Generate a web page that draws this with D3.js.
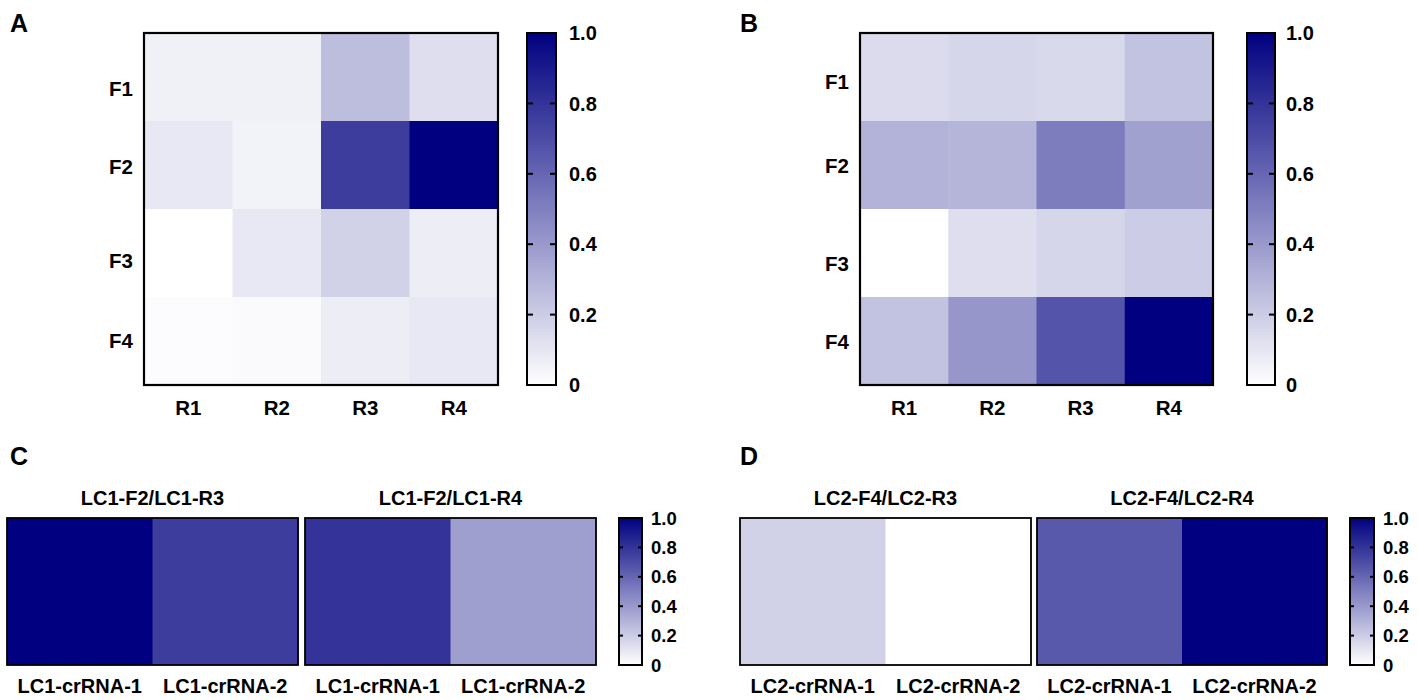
<!DOCTYPE html>
<html>
<head>
<meta charset="utf-8">
<script src="https://cdn.jsdelivr.net/npm/d3@7"></script>
<style>
  html, body { margin: 0; padding: 0; background: #fff; }
  svg { display: block; }
  text { font-family: "Liberation Sans", Arial, sans-serif; font-weight: bold; fill: #000; }
</style>
</head>
<body>
<svg id="chart" width="1418" height="700"></svg>
<script>
// ---------- DATA ----------
const rowsAB = ["F1", "F2", "F3", "F4"];
const colsAB = ["R1", "R2", "R3", "R4"];
const valuesA = [
  [0.06, 0.06, 0.26, 0.13],
  [0.09, 0.05, 0.76, 1.00],
  [0.00, 0.09, 0.18, 0.07],
  [0.01, 0.02, 0.07, 0.09]
];
const valuesB = [
  [0.14, 0.16, 0.15, 0.24],
  [0.30, 0.29, 0.51, 0.37],
  [0.00, 0.13, 0.16, 0.20],
  [0.24, 0.41, 0.67, 1.00]
];
const titlesC = ["LC1-F2/LC1-R3", "LC1-F2/LC1-R4"];
const labelsC = ["LC1-crRNA-1", "LC1-crRNA-2"];
const valuesC = [[1.00, 0.76], [0.80, 0.38]];
const titlesD = ["LC2-F4/LC2-R3", "LC2-F4/LC2-R4"];
const labelsD = ["LC2-crRNA-1", "LC2-crRNA-2"];
const valuesD = [[0.18, 0.00], [0.65, 1.00]];
const barTicks = [0, 0.2, 0.4, 0.6, 0.8, 1.0];
const barTickLabels = ["0", "0.2", "0.4", "0.6", "0.8", "1.0"];
const panelLetters = ["A", "B", "C", "D"];

// ---------- LAYOUT (style only) ----------
const rowLabelNudgeA = [12, 2, 8, 0];
const rowLabelNudgeB = [5, 1, 11, 1];

// ---------- SETUP ----------
const svg = d3.select("#chart");
const color = d3.scaleLinear().domain([0, 1]).range(["#ffffff", "#000080"]).interpolate(d3.interpolateRgb);

const defs = svg.append("defs");
const grad = defs.append("linearGradient").attr("id", "cbar")
  .attr("x1", 0).attr("y1", 1).attr("x2", 0).attr("y2", 0);
d3.range(0, 1.0001, 0.1).forEach(t => {
  grad.append("stop").attr("offset", t).attr("stop-color", color(t));
});

function colorbar(g, x0, x1, y0, y1, fontSize, tickLen, gap) {
  const y = d3.scaleLinear().domain([0, 1]).range([y1, y0]);
  g.append("rect").attr("x", x0).attr("y", y0).attr("width", x1 - x0).attr("height", y1 - y0)
    .attr("fill", "url(#cbar)").attr("stroke", "#000").attr("stroke-width", 2);
  barTicks.forEach((t, i) => {
    if (t > 0 && t < 1) {
      g.append("line").attr("x1", x0).attr("x2", x0 + tickLen).attr("y1", y(t)).attr("y2", y(t))
        .attr("stroke", "#000").attr("stroke-width", 2);
      g.append("line").attr("x1", x1 - tickLen).attr("x2", x1).attr("y1", y(t)).attr("y2", y(t))
        .attr("stroke", "#000").attr("stroke-width", 2);
    }
    g.append("text").attr("x", x1 + gap).attr("y", y(t)).attr("dy", "0.36em")
      .attr("font-size", fontSize).text(barTickLabels[i]);
  });
}

function squareHeatmap(g, values, xRange, yRange, nudge) {
  const x = d3.scaleBand().domain(colsAB).range(xRange);
  const y = d3.scaleBand().domain(rowsAB).range(yRange);
  rowsAB.forEach((r, i) => {
    colsAB.forEach((c, j) => {
      g.append("rect").attr("x", x(c)).attr("y", y(r))
        .attr("width", x.bandwidth() + 0.5).attr("height", y.bandwidth() + 0.5)
        .attr("fill", color(values[i][j]));
    });
  });
  g.append("rect").attr("x", xRange[0]).attr("y", yRange[0])
    .attr("width", xRange[1] - xRange[0]).attr("height", yRange[1] - yRange[0])
    .attr("fill", "none").attr("stroke", "#000").attr("stroke-width", 2.2);
  rowsAB.forEach((r, i) => {
    g.append("text").attr("x", xRange[0] - 11).attr("y", y(r) + y.bandwidth() / 2 + nudge[i])
      .attr("dy", "0.36em").attr("text-anchor", "end").attr("font-size", 20.5).text(r);
  });
  colsAB.forEach(c => {
    g.append("text").attr("x", x(c) + x.bandwidth() / 2).attr("y", yRange[1] + 23)
      .attr("dy", "0.36em").attr("text-anchor", "middle").attr("font-size", 20.5).text(c);
  });
}

function stripHeatmap(g, title, labels, vals, xRange, yRange) {
  const x = d3.scaleBand().domain(labels).range(xRange);
  labels.forEach((l, j) => {
    g.append("rect").attr("x", x(l)).attr("y", yRange[0])
      .attr("width", x.bandwidth() + 0.5).attr("height", yRange[1] - yRange[0])
      .attr("fill", color(vals[j]));
    g.append("text").attr("x", x(l) + x.bandwidth() / 2).attr("y", yRange[1] + 21)
      .attr("dy", "0.36em").attr("text-anchor", "middle").attr("font-size", 20).text(l);
  });
  g.append("rect").attr("x", xRange[0]).attr("y", yRange[0])
    .attr("width", xRange[1] - xRange[0]).attr("height", yRange[1] - yRange[0])
    .attr("fill", "none").attr("stroke", "#000").attr("stroke-width", 1.8);
  g.append("text").attr("x", (xRange[0] + xRange[1]) / 2).attr("y", yRange[0] - 20)
    .attr("dy", "0.36em").attr("text-anchor", "middle").attr("font-size", 20).text(title);
}

// ---------- PANEL A ----------
const gA = svg.append("g");
squareHeatmap(gA, valuesA, [144, 498], [33, 385], rowLabelNudgeA);
colorbar(gA, 527, 556, 33, 385, 20, 6, 13);

// ---------- PANEL B ----------
const gB = svg.append("g");
squareHeatmap(gB, valuesB, [860, 1213], [33, 385], rowLabelNudgeB);
colorbar(gB, 1247, 1275, 33, 385, 20, 6, 11);

// ---------- PANEL C ----------
const gC = svg.append("g");
stripHeatmap(gC, titlesC[0], labelsC, valuesC[0], [7, 298], [518, 665]);
stripHeatmap(gC, titlesC[1], labelsC, valuesC[1], [305, 596], [518, 665]);
colorbar(gC, 619, 642, 518, 665, 18.5, 4, 9);

// ---------- PANEL D ----------
const gD = svg.append("g");
stripHeatmap(gD, titlesD[0], labelsD, valuesD[0], [740, 1031], [518, 665]);
stripHeatmap(gD, titlesD[1], labelsD, valuesD[1], [1037, 1327], [518, 665]);
colorbar(gD, 1350, 1374, 518, 665, 18.5, 4, 9);

// ---------- PANEL LETTERS ----------
const letterPos = [[10, 32], [740, 32], [10, 465], [740, 465]];
panelLetters.forEach((l, i) => {
  svg.append("text").attr("x", letterPos[i][0]).attr("y", letterPos[i][1])
    .attr("font-size", 25).text(l);
});
</script>
</body>
</html>
